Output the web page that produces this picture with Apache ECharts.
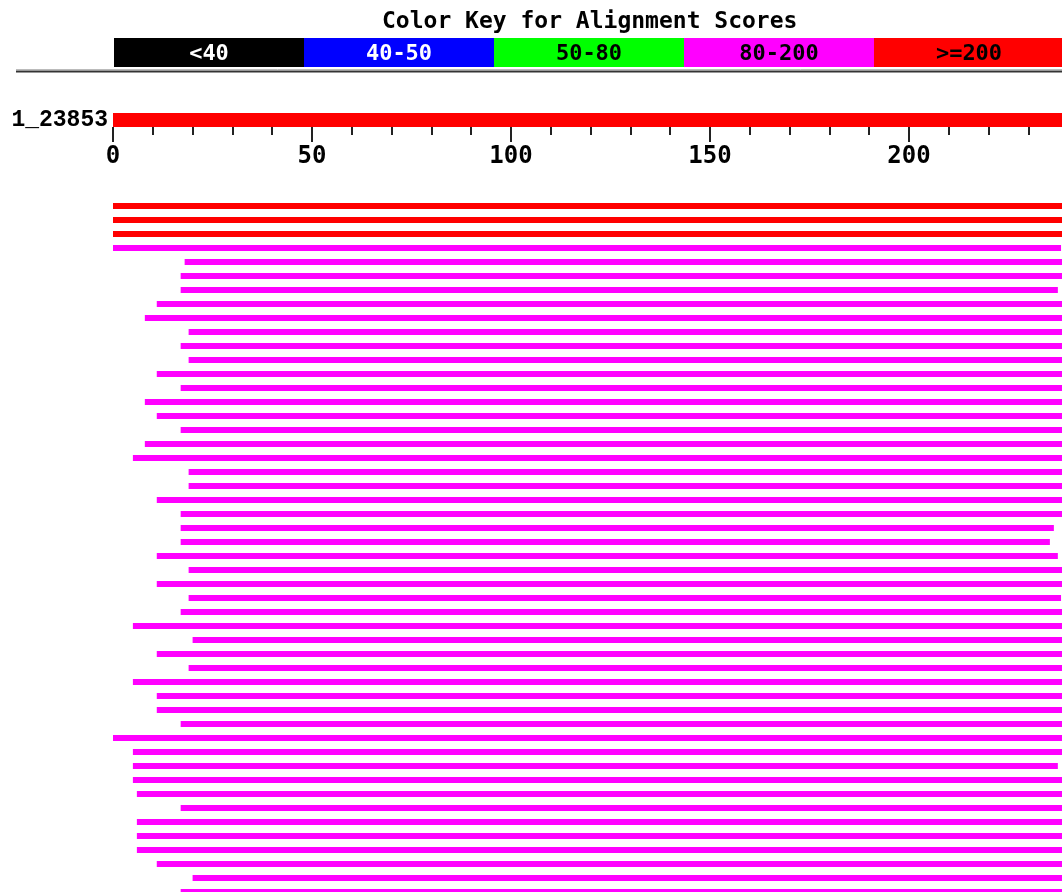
<!DOCTYPE html>
<html>
<head>
<meta charset="utf-8">
<title>Color Key for Alignment Scores</title>
<script src="https://cdn.jsdelivr.net/npm/echarts@6/dist/echarts.min.js"></script>
<style>
html,body{margin:0;padding:0;background:#fff;}
#main{width:1062px;height:892px;}
</style>
</head>
<body>
<div id="main"></div>
<script>
// colour key bins
var keyLabels = ['<40', '40-50', '50-80', '80-200', '>=200'];
var keyColors = ['#000000', '#0000ff', '#00ff00', '#ff00ff', '#ff0000'];
var keyTextColors = ['#ffffff', '#ffffff', '#000000', '#000000', '#000000'];

// query (the picture is cut at the right, around 238)
var queryName = '1_23853';
var queryLength = 250;
var axisMax = 250;

// hits: start / end on the query, score bin (index into keyColors)
var hitStarts = [0, 0, 0, 0, 18, 17, 17, 11, 8, 19,
                 17, 19, 11, 17, 8, 11, 17, 8, 5, 19,
                 19, 11, 17, 17, 17, 11, 19, 11, 19, 17,
                 5, 20, 11, 19, 5, 11, 11, 17, 0, 5,
                 5, 5, 6, 17, 6, 6, 6, 11, 20, 17];
var hitEnds = [250, 250, 250, 238.2, 250, 250, 237.4, 250, 250, 250,
               250, 250, 250, 250, 250, 250, 250, 250, 250, 250,
               250, 250, 250, 236.4, 235.4, 237.4, 250, 250, 238.2, 250,
               250, 250, 250, 250, 250, 250, 250, 250, 250, 250,
               237.4, 250, 250, 250, 250, 250, 250, 250, 250, 250];
var hitBins = [4, 4, 4, 3, 3, 3, 3, 3, 3, 3,
               3, 3, 3, 3, 3, 3, 3, 3, 3, 3,
               3, 3, 3, 3, 3, 3, 3, 3, 3, 3,
               3, 3, 3, 3, 3, 3, 3, 3, 3, 3,
               3, 3, 3, 3, 3, 3, 3, 3, 3, 3];

var MONO = '"DejaVu Sans Mono", "Liberation Mono", monospace';
var LMONO = '"Liberation Mono", "DejaVu Sans Mono", monospace';
var PX = 3.98; // pixels per residue

var chart = echarts.init(document.getElementById('main'));

var rowNames = hitStarts.map(function (s, i) { return 'hit' + i; });

var series = [];
// colour key strip
keyLabels.forEach(function (name, i) {
    series.push({
        name: name,
        type: 'bar',
        xAxisIndex: 0,
        yAxisIndex: 0,
        stack: 'key',
        barWidth: '100%',
        silent: true,
        data: [1],
        itemStyle: {color: keyColors[i]},
        label: {
            show: true,
            position: 'inside',
            formatter: name,
            color: keyTextColors[i],
            fontFamily: MONO,
            fontWeight: 'bold',
            fontSize: 22,
            offset: [0, 2]
        }
    });
});
// query bar
series.push({
    type: 'bar',
    xAxisIndex: 1,
    yAxisIndex: 1,
    barWidth: 14,
    silent: true,
    data: [queryLength],
    itemStyle: {color: '#ff0000'}
});
// hits (transparent offset + coloured span)
series.push({
    type: 'bar',
    xAxisIndex: 2,
    yAxisIndex: 2,
    stack: 'hit',
    barWidth: 6,
    silent: true,
    data: hitStarts,
    itemStyle: {color: 'transparent'}
});
series.push({
    type: 'bar',
    xAxisIndex: 2,
    yAxisIndex: 2,
    stack: 'hit',
    barWidth: 6,
    silent: true,
    data: hitEnds.map(function (e, i) {
        return {value: e - hitStarts[i], itemStyle: {color: keyColors[hitBins[i]]}};
    })
});

var gridW = axisMax * PX;
var option = {
    backgroundColor: '#ffffff',
    animation: false,
    title: {
        text: 'Color Key for Alignment Scores',
        left: 377,
        top: 6,
        textStyle: {fontFamily: MONO, fontWeight: 'bold', fontSize: 23, color: '#000'}
    },
    grid: [
        {left: 114, top: 38, width: 950, height: 29, containLabel: false, outerBoundsMode: 'none'},
        {left: 113, top: 113, width: gridW, height: 14, containLabel: false, outerBoundsMode: 'none'},
        {left: 113, top: 199, width: gridW, height: 700, containLabel: false, outerBoundsMode: 'none'}
    ],
    xAxis: [
        {gridIndex: 0, type: 'value', min: 0, max: 5, show: false},
        {
            gridIndex: 1, type: 'value', min: 0, max: axisMax, interval: 50,
            splitLine: {show: false},
            axisLine: {show: false},
            axisTick: {show: true, length: 15, lineStyle: {color: '#222', width: 2}},
            minorTick: {show: true, splitNumber: 5, length: 8, lineStyle: {color: '#222', width: 2}},
            axisLabel: {margin: 18, color: '#000', fontFamily: MONO, fontWeight: 'bold', fontSize: 24}
        },
        {gridIndex: 2, type: 'value', min: 0, max: axisMax, show: false}
    ],
    yAxis: [
        {gridIndex: 0, type: 'category', data: ['key'], show: false},
        {
            gridIndex: 1, type: 'category', data: [queryName],
            axisLine: {show: false},
            axisTick: {show: false},
            axisLabel: {
                margin: 5, color: '#000', fontFamily: LMONO, fontWeight: 'bold', fontSize: 23,
                padding: [0, 0, 7, 0]
            }
        },
        {gridIndex: 2, type: 'category', data: rowNames, inverse: true, show: false}
    ],
    graphic: [
        {type: 'line', shape: {x1: 16, y1: 69.5, x2: 1062, y2: 69.5}, style: {stroke: '#bbb', lineWidth: 1}},
        {type: 'line', shape: {x1: 16, y1: 71.5, x2: 1062, y2: 71.5}, style: {stroke: '#333', lineWidth: 2}}
    ],
    series: series
};
chart.setOption(option);
</script>
</body>
</html>
